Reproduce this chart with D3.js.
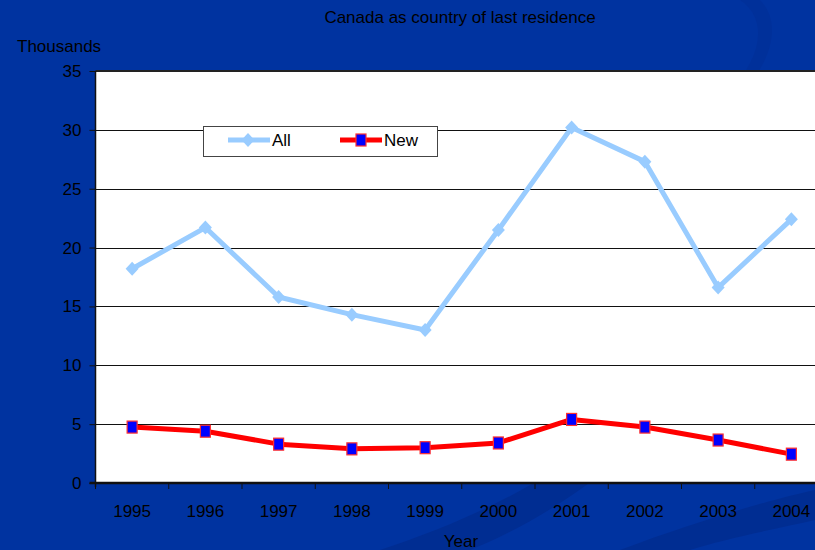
<!DOCTYPE html>
<html>
<head>
<meta charset="utf-8">
<script src="https://cdn.jsdelivr.net/npm/d3@7"></script>
<style>
  html, body { margin: 0; padding: 0; background: #0033a0; }
  svg { display: block; font-family: "Liberation Sans", Arial, sans-serif; }
</style>
</head>
<body>
<svg id="chart" width="815" height="550"></svg>
<script>
// Immigration from Canada, thousands per year
const years = ["1995", "1996", "1997", "1998", "1999", "2000", "2001", "2002", "2003", "2004"];
const allValues = [18.2, 21.7, 15.8, 14.3, 13.0, 21.5, 30.2, 27.3, 16.6, 22.4];
const newValues = [4.75, 4.4, 3.3, 2.9, 3.0, 3.4, 5.4, 4.75, 3.65, 2.45];
const yTicks = [0, 5, 10, 15, 20, 25, 30, 35];

const svg = d3.select("#chart");
const W = 815, H = 550;
const plot = { left: 95.5, top: 71, right: 828, bottom: 483 };

// backdrop with faint swoosh shapes
svg.append("rect").attr("width", W).attr("height", H).attr("fill", "#0033a0");
const swoosh = svg.append("g");
swoosh.append("path")
  .attr("d", "M380,550 C470,520 530,490 600,440 L640,440 C590,490 520,530 470,550 Z")
  .attr("fill", "#002b8c").attr("opacity", 0.7);
swoosh.append("path")
  .attr("d", "M620,550 C700,520 770,500 815,490 L815,520 C770,530 720,540 690,550 Z")
  .attr("fill", "#002b8c").attr("opacity", 0.7);
swoosh.append("path")
  .attr("d", "M740,0 C770,20 760,60 730,90 L745,90 C775,55 780,20 760,0 Z")
  .attr("fill", "#002f96").attr("opacity", 0.6);

const x = d3.scaleBand().domain(years).range([plot.left, plot.right]);
const y = d3.scaleLinear().domain([0, 35]).range([plot.bottom, plot.top]);

// plot area
svg.append("rect")
  .attr("x", plot.left).attr("y", plot.top)
  .attr("width", plot.right - plot.left).attr("height", plot.bottom - plot.top)
  .attr("fill", "#ffffff");

// horizontal gridlines
svg.append("g").selectAll("line")
  .data(yTicks.filter(d => d > 0 && d < 35))
  .join("line")
  .attr("x1", plot.left).attr("x2", plot.right)
  .attr("y1", d => Math.round(y(d)) + 0.5).attr("y2", d => Math.round(y(d)) + 0.5)
  .attr("stroke", "#111").attr("stroke-width", 1);

// top border of the plot
svg.append("line")
  .attr("x1", plot.left).attr("x2", plot.right)
  .attr("y1", plot.top).attr("y2", plot.top)
  .attr("stroke", "#222").attr("stroke-width", 2);

// y axis
const yAxis = svg.append("g")
  .attr("transform", `translate(${plot.left},0)`)
  .call(d3.axisLeft(y).tickValues(yTicks).tickSize(6).tickPadding(8).tickFormat(d3.format("d")));
yAxis.select(".domain").attr("stroke", "#111").attr("stroke-width", 1.5)
  .attr("d", `M0,${plot.top}V${plot.bottom + 4}`);
yAxis.selectAll(".tick line").attr("stroke", "#111");
yAxis.selectAll(".tick text").attr("fill", "#000").attr("font-size", 17)
  .attr("font-family", "Liberation Sans, Arial, sans-serif");

// x axis with ticks between categories
const xAxis = svg.append("g").attr("transform", `translate(0,${plot.bottom})`);
xAxis.append("line")
  .attr("x1", plot.left - 6).attr("x2", plot.right)
  .attr("y1", 0).attr("y2", 0)
  .attr("stroke", "#111").attr("stroke-width", 2.5);
xAxis.selectAll("line.tk")
  .data(years)
  .join("line").attr("class", "tk")
  .attr("x1", d => x(d)).attr("x2", d => x(d))
  .attr("y1", 0).attr("y2", 6)
  .attr("stroke", "#111").attr("stroke-width", 1);
xAxis.selectAll("text")
  .data(years)
  .join("text")
  .attr("x", d => x(d) + x.bandwidth() / 2)
  .attr("y", 34)
  .attr("text-anchor", "middle")
  .attr("font-size", 17)
  .attr("fill", "#000")
  .text(d => d);

// titles
svg.append("text").attr("x", 460).attr("y", 23).attr("text-anchor", "middle")
  .attr("font-size", 17).attr("fill", "#000").text("Canada as country of last residence");
svg.append("text").attr("x", 17).attr("y", 52)
  .attr("font-size", 17).attr("fill", "#000").text("Thousands");
svg.append("text").attr("x", 461).attr("y", 547).attr("text-anchor", "middle")
  .attr("font-size", 17).attr("fill", "#000").text("Year");

const cx = d => x(d) + x.bandwidth() / 2;
const line = d3.line().x((d, i) => cx(years[i])).y(d => y(d));

// diamond marker, slightly taller than wide
const diamondPath = "M0,-7L6.5,0L0,7L-6.5,0Z";

// All series
svg.append("path").datum(allValues)
  .attr("d", line).attr("fill", "none")
  .attr("stroke", "#99ccff").attr("stroke-width", 5).attr("stroke-linejoin", "round");
svg.append("g").selectAll("path")
  .data(allValues)
  .join("path")
  .attr("d", diamondPath)
  .attr("transform", (d, i) => `translate(${cx(years[i])},${y(d)})`)
  .attr("fill", "#99ccff");

// New series
svg.append("path").datum(newValues)
  .attr("d", line).attr("fill", "none")
  .attr("stroke", "#ff0000").attr("stroke-width", 5).attr("stroke-linejoin", "round");
svg.append("g").selectAll("rect")
  .data(newValues)
  .join("rect")
  .attr("x", (d, i) => cx(years[i]) - 5)
  .attr("y", d => y(d) - 6)
  .attr("width", 10).attr("height", 12)
  .attr("fill", "#0000ff").attr("stroke", "#ff3030").attr("stroke-width", 1.2);

// legend
const lg = svg.append("g");
lg.append("rect").attr("x", 203.5).attr("y", 126.5).attr("width", 234).attr("height", 30)
  .attr("fill", "#fff").attr("stroke", "#444").attr("stroke-width", 1);
lg.append("line").attr("x1", 228).attr("x2", 270).attr("y1", 140).attr("y2", 140)
  .attr("stroke", "#99ccff").attr("stroke-width", 5);
lg.append("path").attr("d", diamondPath).attr("transform", "translate(248,140)").attr("fill", "#99ccff");
lg.append("text").attr("x", 272).attr("y", 146).attr("font-size", 17).attr("fill", "#000").text("All");
lg.append("line").attr("x1", 340).attr("x2", 382).attr("y1", 140).attr("y2", 140)
  .attr("stroke", "#ff0000").attr("stroke-width", 5);
lg.append("rect").attr("x", 356).attr("y", 134).attr("width", 10).attr("height", 12)
  .attr("fill", "#0000ff").attr("stroke", "#ff3030").attr("stroke-width", 1.2);
lg.append("text").attr("x", 384).attr("y", 146).attr("font-size", 17).attr("fill", "#000").text("New");
</script>
</body>
</html>
